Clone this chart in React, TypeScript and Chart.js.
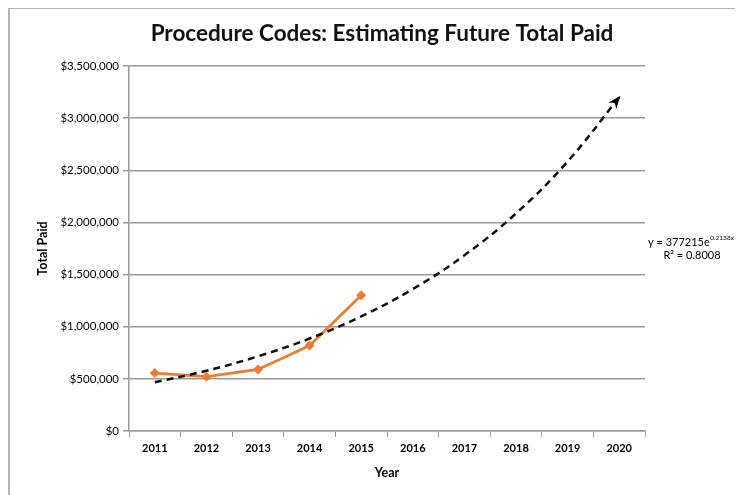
import React, { useEffect, useRef } from "react";
import { Chart, registerables } from "chart.js";

Chart.register(...registerables);

const years = ["2011", "2012", "2013", "2014", "2015", "2016", "2017", "2018", "2019", "2020"];
const totalPaid = [555000, 521000, 590000, 820000, 1302000, null, null, null, null, null];
const trendValues = [467000, 578000, 716000, 887000, 1099000, 1361000, 1685000, 2086000, 2584000, 3200000];
const yTicks = [0, 500000, 1000000, 1500000, 2000000, 2500000, 3000000, 3500000];
const eqMain = "y = 377215e";
const eqExp = "0.2138x";
const eqR2 = "R² = 0.8008";

const FONT = "Lato, 'Open Sans', sans-serif";
const GRID = "#9a9a9a";
const ORANGE = "#ED7D31";

const decorPlugin = {
  id: "decor",
  afterDatasetsDraw(chart: any) {
    const ctx = chart.ctx;
    const meta = chart.getDatasetMeta(1);
    const pts = meta.data;
    const last = pts[pts.length - 1];
    if (last) {
      const fromX = last.cp1x ?? pts[pts.length - 2].x;
      const fromY = last.cp1y ?? pts[pts.length - 2].y;
      const ang = Math.atan2(last.y - fromY, last.x - fromX);
      const L = 11;
      const W = 5;
      ctx.save();
      ctx.translate(last.x, last.y);
      ctx.rotate(ang);
      ctx.fillStyle = "#000";
      ctx.beginPath();
      ctx.moveTo(2, 0);
      ctx.lineTo(-L, -W);
      ctx.lineTo(-L + 4, 0);
      ctx.lineTo(-L, W);
      ctx.closePath();
      ctx.fill();
      ctx.restore();
    }
    const ca = chart.chartArea;
    ctx.save();
    ctx.fillStyle = "#000";
    ctx.textBaseline = "middle";
    ctx.textAlign = "left";
    ctx.font = `11px ${FONT}`;
    const x0 = ca.right + 3;
    const y1 = ca.top + 176;
    ctx.fillText(eqMain, x0, y1);
    const w = ctx.measureText(eqMain).width;
    ctx.font = `6.5px ${FONT}`;
    ctx.fillText(eqExp, x0 + w + 0.5, y1 - 4);
    ctx.font = `11px ${FONT}`;
    ctx.textAlign = "center";
    ctx.fillText(eqR2, x0 + 44, y1 + 13);
    ctx.restore();
  },
};

export default function App() {
  const ref = useRef<HTMLCanvasElement | null>(null);
  useEffect(() => {
    if (!ref.current) return;
    const chart = new Chart(ref.current, {
      type: "line",
      data: {
        labels: years,
        datasets: [
          {
            label: "Total Paid",
            data: totalPaid,
            borderColor: ORANGE,
            backgroundColor: ORANGE,
            borderWidth: 2.8,
            pointStyle: "rectRot",
            pointRadius: 5,
            pointBorderWidth: 0,
            pointBackgroundColor: ORANGE,
            tension: 0,
            spanGaps: false,
            order: 1,
          },
          {
            label: "Trend",
            data: trendValues,
            borderColor: "#111",
            borderWidth: 2.5,
            borderDash: [7, 5],
            pointRadius: 0,
            tension: 0.4,
            order: 0,
          },
        ],
      },
      options: {
        animation: false,
        responsive: false,
        layout: { padding: { left: 13, right: 0, top: 0, bottom: 0 } },
        plugins: {
          legend: { display: false },
          tooltip: { enabled: false },
          title: {
            display: true,
            text: "Procedure Codes: Estimating Future Total Paid",
            color: "#111",
            font: { family: FONT, size: 22.5, weight: "bold" },
            padding: { top: 12, bottom: 19 },
          },
        },
        scales: {
          x: {
            type: "category",
            offset: true,
            grid: {
              offset: true,
              drawOnChartArea: false,
              drawTicks: true,
              tickLength: 6,
              color: GRID,
            },
            border: { color: GRID, width: 1.5 },
            ticks: {
              color: "#000",
              font: { family: FONT, size: 11, weight: "bold" },
              padding: 5,
              maxRotation: 0,
            },
            title: {
              display: true,
              text: "Year",
              color: "#000",
              font: { family: FONT, size: 12.5, weight: "bold" },
              padding: { top: 0, bottom: 15 },
            },
            afterFit: (s: any) => {
              s.height = 64;
            },
          },
          y: {
            min: 0,
            max: 3500000,
            afterBuildTicks: (s: any) => {
              s.ticks = yTicks.map((v) => ({ value: v }));
            },
            grid: { color: GRID, lineWidth: 1.5, tickLength: 6 },
            border: { color: GRID, width: 1.5 },
            ticks: {
              color: "#000",
              font: { family: FONT, size: 11.5 },
              padding: 4,
              callback: (v: any) => "$" + Number(v).toLocaleString("en-US"),
            },
            title: {
              display: true,
              text: "Total Paid",
              color: "#000",
              font: { family: FONT, size: 12.5, weight: "bold" },
              padding: { top: 14, bottom: 0 },
            },
            afterFit: (s: any) => {
              s.width = 108;
            },
          },
          y2: {
            position: "right",
            display: true,
            grid: { display: false, drawTicks: false },
            border: { display: false },
            ticks: { display: false },
            afterFit: (s: any) => {
              s.width = 98;
            },
          },
        },
      },
      plugins: [decorPlugin],
    } as any);
    return () => chart.destroy();
  }, []);

  return (
    <div style={{ position: "relative", width: 735, height: 487, overflow: "hidden" }}>
      <canvas ref={ref} width={735} height={487} style={{ position: "absolute", left: 0, top: 0 }} />
      <div
        style={{
          position: "absolute",
          left: 0,
          top: -1,
          width: 760,
          height: 520,
          borderLeft: "2px solid #b4b4b4",
          borderTop: "2px solid #b4b4b4",
          pointerEvents: "none",
        }}
      />
    </div>
  );
}
